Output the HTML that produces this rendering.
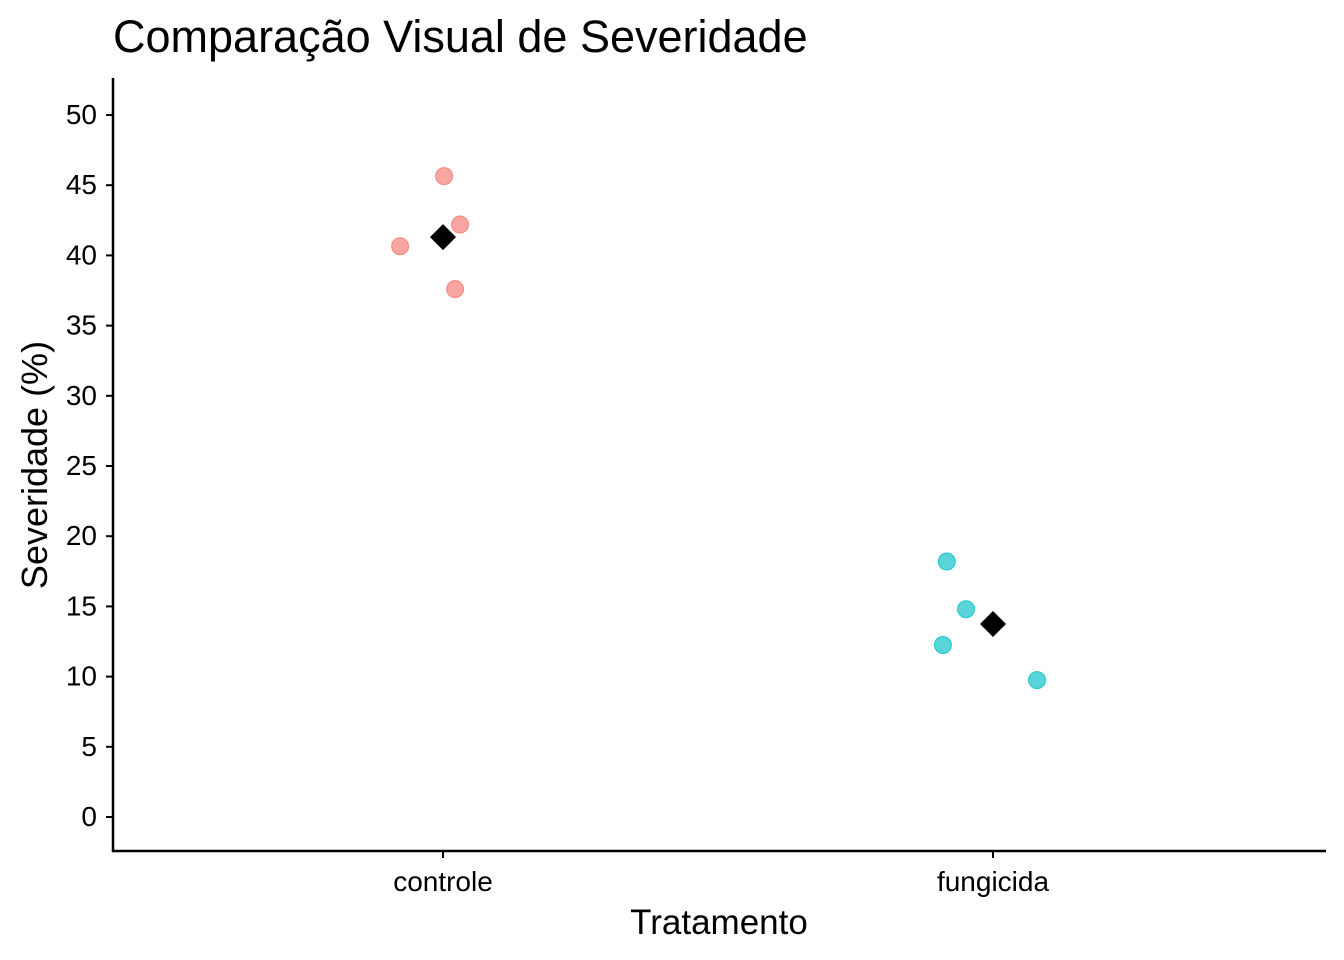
<!DOCTYPE html>
<html><head><meta charset="utf-8"><style>
html,body{margin:0;padding:0;background:#fff;}
svg{display:block;font-family:"Liberation Sans",Arial,sans-serif;}
</style></head><body>
<svg id="chart" width="1344" height="960" viewBox="0 0 1344 960">
<rect width="1344" height="960" fill="#fff"/>
<text x="113" y="52" font-size="45" fill="#000">Comparação Visual de Severidade</text>
<g id="axes"></g>
<g id="marks"></g>
<text x="719" y="934" font-size="35" text-anchor="middle" fill="#000">Tratamento</text>
<text transform="translate(47,465) rotate(-90)" font-size="36" text-anchor="middle" fill="#000">Severidade (%)</text>
</svg>
<script>
const categories = ["controle", "fungicida"];
const controleValues = [45.65, 42.2, 40.65, 37.6];
const controleJitter = [0.002, 0.031, -0.078, 0.022];
const fungicidaValues = [18.2, 14.8, 12.25, 9.75];
const fungicidaJitter = [-0.084, -0.049, -0.091, 0.08];
const meanValues = [41.3, 13.75];
const yTicks = [0, 5, 10, 15, 20, 25, 30, 35, 40, 45, 50];
const colors = ["#F8766D", "#00BFC4"];

const NS = "http://www.w3.org/2000/svg";
function y(v){ return 817 - v * 14.04; }
function x(i){ return 443 + i * 550; }
function mk(tag, attrs, parent){
  const e = document.createElementNS(NS, tag);
  for (const k in attrs) e.setAttribute(k, attrs[k]);
  parent.appendChild(e);
  return e;
}
const axes = document.getElementById("axes");
const marks = document.getElementById("marks");
let l = mk("line", {x1:113, y1:78, x2:113, y2:852, stroke:"#000", "stroke-width":2.5}, axes);


l = mk("line", {x1:112, y1:851, x2:1326, y2:851, stroke:"#000", "stroke-width":2.5}, axes);


yTicks.forEach(t => {
  const tk = mk("line", {x1:106, y1:y(t), x2:113, y2:y(t), stroke:"#000", "stroke-width":2}, axes);
  
  
  const tx = mk("text", {x:97, y:y(t)+9, "font-size":28, "text-anchor":"end", fill:"#000"}, axes);
  tx.textContent = t;
  
  
});
categories.forEach((c, i) => {
  const tk = mk("line", {x1:x(i), y1:851, x2:x(i), y2:858, stroke:"#000", "stroke-width":2}, axes);
  
  
  const tx = mk("text", {x:x(i), y:891, "font-size":28, "text-anchor":"middle", fill:"#000"}, axes);
  tx.textContent = c;
  
  
});
const series = [[controleValues, controleJitter], [fungicidaValues, fungicidaJitter]];
series.forEach((s, i) => {
  s[0].forEach((v, j) => {
    const c = mk("circle", {cx: x(i + s[1][j]), cy: y(v), r: 8.5, fill: colors[i], "fill-opacity": 0.65, stroke: colors[i], "stroke-opacity":0.8, "stroke-width":1}, marks);
    
    
  });
});
meanValues.forEach((m, i) => {
  const cx = x(i), cy = y(m), d = 13;
  const p = mk("polygon", {points: `${cx},${cy-d} ${cx+d},${cy} ${cx},${cy+d} ${cx-d},${cy}`, fill:"#000"}, marks);
  
  
});
</script>
</body></html>
